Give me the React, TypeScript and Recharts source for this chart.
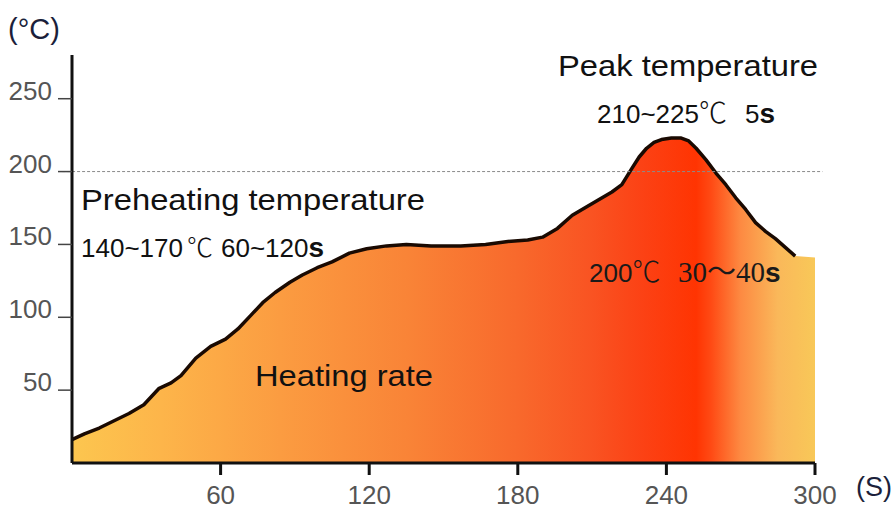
import React from "react";
import { Area, ComposedChart, Line, ReferenceLine, XAxis, YAxis } from "recharts";

// reflow profile (seconds / °C)
const time = [
  0, 5, 11, 17, 23, 29, 35, 40, 44, 50, 56, 62, 67, 72, 77, 82, 88, 93, 99, 105, 112, 119, 127, 135,
  145, 157, 167, 176, 184, 190, 196, 202, 208, 213, 218, 222, 226, 229, 232, 235, 238, 242, 246, 249,
  252, 256, 260, 264, 268, 272, 276, 280, 284, 288, 292, 300,
];
const temperature = [
  16, 20, 24, 29, 34, 40, 51, 55, 60, 72, 80, 85, 92, 101, 110, 117, 124, 129, 134, 138, 144, 147, 149,
  150, 149, 149, 150, 152, 153, 155, 161, 170, 176, 181, 186, 191, 202, 210, 216, 220, 222, 223, 223,
  221, 216, 208, 199, 191, 182, 174, 165, 159, 154, 148, 142, 141,
];
// the black outline stops before the fill does
const strokeEnd = 292;

const xTicks = [60, 120, 180, 240, 300];
const yTicks = [50, 100, 150, 200, 250];
const peakLine = 200;

const SANS = "'Liberation Sans', Arial, sans-serif";
const CJK = "'Noto Sans CJK SC', sans-serif";
const SERIF = "'Liberation Serif', 'Noto Sans CJK SC', serif";

const data = time.map((t, i) => ({
  time: t,
  temp: temperature[i],
  line: t <= strokeEnd ? temperature[i] : null,
}));

function XTick(props: any) {
  const { x, y, payload } = props;
  return (
    <text x={x} y={y} dy="0.72em" textAnchor="middle" fontFamily={SANS} fontSize={26} fill="#555">
      {payload.value}
    </text>
  );
}

function YTick(props: any) {
  const { x, y, payload } = props;
  return (
    <text x={x} y={y} dy={1} textAnchor="end" fontFamily={SANS} fontSize={26} fill="#555">
      {payload.value}
    </text>
  );
}

export default function App() {
  return (
    <div style={{ position: "absolute", left: 0, top: 0, width: 894, height: 510, background: "#fff" }}>
      <ComposedChart width={894} height={510} data={data} margin={{ top: 55, right: 79, bottom: 0, left: 0 }}>
        <defs>
          <linearGradient id="reflowFill" x1="0" y1="0" x2="1" y2="0">
            <stop offset="0%" stopColor="#fcc64f" />
            <stop offset="12%" stopColor="#fdb54a" />
            <stop offset="28%" stopColor="#fb9c41" />
            <stop offset="45%" stopColor="#f98437" />
            <stop offset="60%" stopColor="#f8692c" />
            <stop offset="70%" stopColor="#f95322" />
            <stop offset="77%" stopColor="#fc4114" />
            <stop offset="84%" stopColor="#ff3402" />
            <stop offset="86%" stopColor="#ff4a14" />
            <stop offset="90%" stopColor="#fd8a42" />
            <stop offset="95%" stopColor="#fab85a" />
            <stop offset="100%" stopColor="#f8c858" />
          </linearGradient>
        </defs>
        <XAxis
          type="number"
          dataKey="time"
          domain={[0, 300]}
          ticks={xTicks}
          interval={0}
          height={47}
          axisLine={{ stroke: "#111", strokeWidth: 3 }}
          tickLine={{ stroke: "#111", strokeWidth: 3 }}
          tickSize={12}
          tickMargin={10}
          tick={<XTick />}
        />
        <YAxis
          type="number"
          domain={[0, 280]}
          ticks={yTicks}
          interval={0}
          width={72}
          axisLine={{ stroke: "#111", strokeWidth: 3 }}
          tickLine={{ stroke: "#444", strokeWidth: 1.5 }}
          tickSize={14}
          tickMargin={6}
          tick={<YTick />}
        />
        <Area
          type="linear"
          dataKey="temp"
          stroke="none"
          fill="url(#reflowFill)"
          fillOpacity={1}
          baseValue={0}
          isAnimationActive={false}
        />
        <Line
          type="linear"
          dataKey="line"
          stroke="#1a0a02"
          strokeWidth={3.5}
          strokeLinejoin="round"
          dot={false}
          activeDot={false}
          isAnimationActive={false}
        />
        <ReferenceLine
          segment={[
            { x: -4, y: peakLine },
            { x: 303, y: peakLine },
          ]}
          ifOverflow="visible"
          stroke="#8a8a8a"
          strokeWidth={1}
          strokeDasharray="3 2"
        />
      </ComposedChart>
      <svg
        width={894}
        height={510}
        style={{ position: "absolute", left: 0, top: 0, pointerEvents: "none" }}
      >
        <text x={8} y={39} fontFamily={SANS} fontSize={29} fill="#1b1f3b">
          (°C)
        </text>
        <text x={856} y={496} fontFamily={SANS} fontSize={27} fill="#1b1f3b">
          (S)
        </text>
        <text x={558} y={76} fontFamily={SANS} fontSize={30} fill="#111" textLength={260} lengthAdjust="spacingAndGlyphs">
          Peak temperature
        </text>
        <text x={597} y={123} fontSize={26} fill="#111">
          <tspan fontFamily={SANS}>210~225</tspan>
          <tspan fontFamily={CJK} fontWeight={300} fontSize={28}>℃</tspan>
          <tspan x={745} fontFamily={SANS}>5</tspan>
          <tspan fontFamily={SANS} fontWeight="bold" fontSize={28}>s</tspan>
        </text>
        <text x={81} y={210} fontFamily={SANS} fontSize={30} fill="#111" textLength={344} lengthAdjust="spacingAndGlyphs">
          Preheating temperature
        </text>
        <text x={81} y={257} fontSize={26} fill="#111">
          <tspan fontFamily={SANS}>140~170</tspan>
          <tspan x={187} fontFamily={CJK} fontWeight={300}>℃</tspan>
          <tspan x={221} fontFamily={SANS}>60~120</tspan>
          <tspan fontFamily={SANS} fontWeight="bold" fontSize={28}>s</tspan>
        </text>
        <text x={255} y={386} fontFamily={SANS} fontSize={30} fill="#111" textLength={178} lengthAdjust="spacingAndGlyphs">
          Heating rate
        </text>
        <text x={589} y={282} fontSize={26} fill="#1a1a1a">
          <tspan fontFamily={SANS}>200</tspan>
          <tspan fontFamily={CJK} fontWeight={300} fontSize={28}>℃</tspan>
          <tspan x={678} fontFamily={SERIF} fontSize={29}>30～40</tspan>
          <tspan fontFamily={SANS} fontWeight="bold" fontSize={28}>s</tspan>
        </text>
      </svg>
    </div>
  );
}
